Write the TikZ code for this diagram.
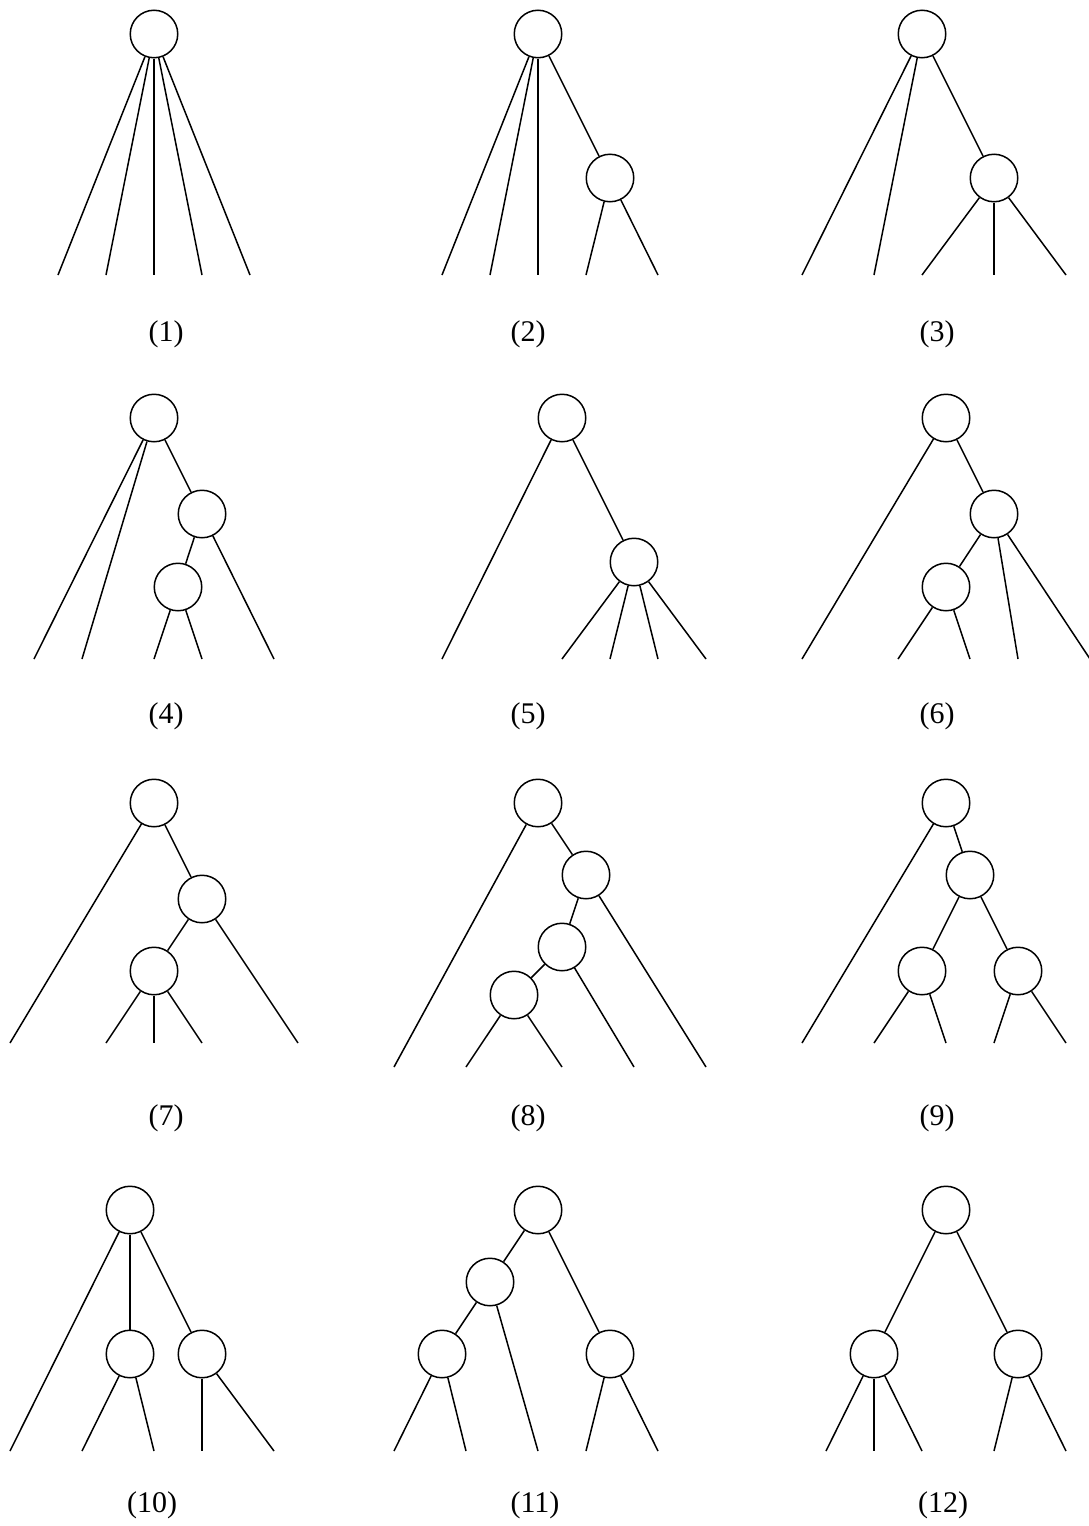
\documentclass[tikz,border=0pt]{standalone}
\usepackage{fontspec}
\setmainfont{Liberation Serif}
\begin{document}
\begin{tikzpicture}[x=1pt,y=-1pt,
  nd/.style={circle,draw,line width=1.5pt,minimum size=47.5pt,inner sep=0pt},
  every path/.style={line width=1.5pt},
  lbl/.style={font=\fontsize{30}{36}\selectfont,inner sep=0pt}]
\useasboundingbox (0,0) rectangle (1089,1526);
% ---------- Tree 1
\node[nd] (r1) at (154,34) {};
\foreach \x [count=\i] in {58,106,154,202,250} {\coordinate (l1\i) at (\x,275); \draw (r1) -- (l1\i);}
\node[lbl] (t1) at (166,334) {(1)};
% ---------- Tree 2
\node[nd] (r2) at (538,34) {};
\node[nd] (a2) at (610,178) {};
\draw (r2) -- (a2);
\foreach \x [count=\i] in {442,490,538} {\coordinate (l2\i) at (\x,275); \draw (r2) -- (l2\i);}
\foreach \x [count=\i] in {586,658} {\coordinate (m2\i) at (\x,275); \draw (a2) -- (m2\i);}
\node[lbl] (t2) at (528,334) {(2)};
% ---------- Tree 3
\node[nd] (r3) at (922,34) {};
\node[nd] (a3) at (994,178) {};
\draw (r3) -- (a3);
\foreach \x [count=\i] in {802,874} {\coordinate (l3\i) at (\x,275); \draw (r3) -- (l3\i);}
\foreach \x [count=\i] in {922,994,1066} {\coordinate (m3\i) at (\x,275); \draw (a3) -- (m3\i);}
\node[lbl] (t3) at (937,334) {(3)};
% ---------- Tree 4
\node[nd] (r4) at (154,418) {};
\node[nd] (a4) at (202,514) {};
\node[nd] (b4) at (178,587) {};
\draw (r4) -- (a4); \draw (a4) -- (b4);
\foreach \x [count=\i] in {34,82} {\coordinate (l4\i) at (\x,659); \draw (r4) -- (l4\i);}
\coordinate (m41) at (274,659); \draw (a4) -- (m41);
\foreach \x [count=\i] in {154,202} {\coordinate (n4\i) at (\x,659); \draw (b4) -- (n4\i);}
\node[lbl] (t4) at (166,716) {(4)};
% ---------- Tree 5
\node[nd] (r5) at (562,418) {};
\node[nd] (a5) at (634,562) {};
\draw (r5) -- (a5);
\coordinate (l51) at (442,659); \draw (r5) -- (l51);
\foreach \x [count=\i] in {562,610,658,706} {\coordinate (m5\i) at (\x,659); \draw (a5) -- (m5\i);}
\node[lbl] (t5) at (528,716) {(5)};
% ---------- Tree 6
\node[nd] (r6) at (946,418) {};
\node[nd] (a6) at (994,514) {};
\node[nd] (b6) at (946,587) {};
\draw (r6) -- (a6); \draw (a6) -- (b6);
\coordinate (l61) at (802,659); \draw (r6) -- (l61);
\foreach \x [count=\i] in {1018,1090} {\coordinate (m6\i) at (\x,659); \draw (a6) -- (m6\i);}
\foreach \x [count=\i] in {898,970} {\coordinate (n6\i) at (\x,659); \draw (b6) -- (n6\i);}
\node[lbl] (t6) at (937,716) {(6)};
% ---------- Tree 7
\node[nd] (r7) at (154,803) {};
\node[nd] (a7) at (202,899) {};
\node[nd] (b7) at (154,971) {};
\draw (r7) -- (a7); \draw (a7) -- (b7);
\coordinate (l71) at (10,1043); \draw (r7) -- (l71);
\coordinate (m71) at (298,1043); \draw (a7) -- (m71);
\foreach \x [count=\i] in {106,154,202} {\coordinate (n7\i) at (\x,1043); \draw (b7) -- (n7\i);}
\node[lbl] (t7) at (166,1118) {(7)};
% ---------- Tree 8
\node[nd] (r8) at (538,803) {};
\node[nd] (a8) at (586,875) {};
\node[nd] (b8) at (562,947) {};
\node[nd] (c8) at (514,995) {};
\draw (r8) -- (a8); \draw (a8) -- (b8); \draw (b8) -- (c8);
\coordinate (l81) at (394,1067); \draw (r8) -- (l81);
\coordinate (m81) at (706,1067); \draw (a8) -- (m81);
\coordinate (n81) at (634,1067); \draw (b8) -- (n81);
\foreach \x [count=\i] in {466,562} {\coordinate (o8\i) at (\x,1067); \draw (c8) -- (o8\i);}
\node[lbl] (t8) at (528,1118) {(8)};
% ---------- Tree 9
\node[nd] (r9) at (946,803) {};
\node[nd] (a9) at (970,875) {};
\node[nd] (b9) at (922,971) {};
\node[nd] (c9) at (1018,971) {};
\draw (r9) -- (a9); \draw (a9) -- (b9); \draw (a9) -- (c9);
\coordinate (l91) at (802,1043); \draw (r9) -- (l91);
\foreach \x [count=\i] in {874,946} {\coordinate (n9\i) at (\x,1043); \draw (b9) -- (n9\i);}
\foreach \x [count=\i] in {994,1066} {\coordinate (o9\i) at (\x,1043); \draw (c9) -- (o9\i);}
\node[lbl] (t9) at (937,1118) {(9)};
% ---------- Tree 10
\node[nd] (r10) at (130,1210) {};
\node[nd] (a10) at (130,1354) {};
\node[nd] (b10) at (202,1354) {};
\draw (r10) -- (a10); \draw (r10) -- (b10);
\coordinate (l101) at (10,1451); \draw (r10) -- (l101);
\foreach \x [count=\i] in {82,154} {\coordinate (m10\i) at (\x,1451); \draw (a10) -- (m10\i);}
\foreach \x [count=\i] in {202,274} {\coordinate (n10\i) at (\x,1451); \draw (b10) -- (n10\i);}
\node[lbl] (t10) at (152,1505) {(10)};
% ---------- Tree 11
\node[nd] (r11) at (538,1210) {};
\node[nd] (a11) at (490,1282) {};
\node[nd] (b11) at (442,1354) {};
\node[nd] (c11) at (610,1354) {};
\draw (r11) -- (a11); \draw (r11) -- (c11); \draw (a11) -- (b11);
\coordinate (l111) at (538,1451); \draw (a11) -- (l111);
\foreach \x [count=\i] in {394,466} {\coordinate (m11\i) at (\x,1451); \draw (b11) -- (m11\i);}
\foreach \x [count=\i] in {586,658} {\coordinate (n11\i) at (\x,1451); \draw (c11) -- (n11\i);}
\node[lbl] (t11) at (535,1505) {(11)};
% ---------- Tree 12
\node[nd] (r12) at (946,1210) {};
\node[nd] (a12) at (874,1354) {};
\node[nd] (b12) at (1018,1354) {};
\draw (r12) -- (a12); \draw (r12) -- (b12);
\foreach \x [count=\i] in {826,874,922} {\coordinate (m12\i) at (\x,1451); \draw (a12) -- (m12\i);}
\foreach \x [count=\i] in {994,1066} {\coordinate (n12\i) at (\x,1451); \draw (b12) -- (n12\i);}
\node[lbl] (t12) at (943,1505) {(12)};
\end{tikzpicture}
\end{document}
